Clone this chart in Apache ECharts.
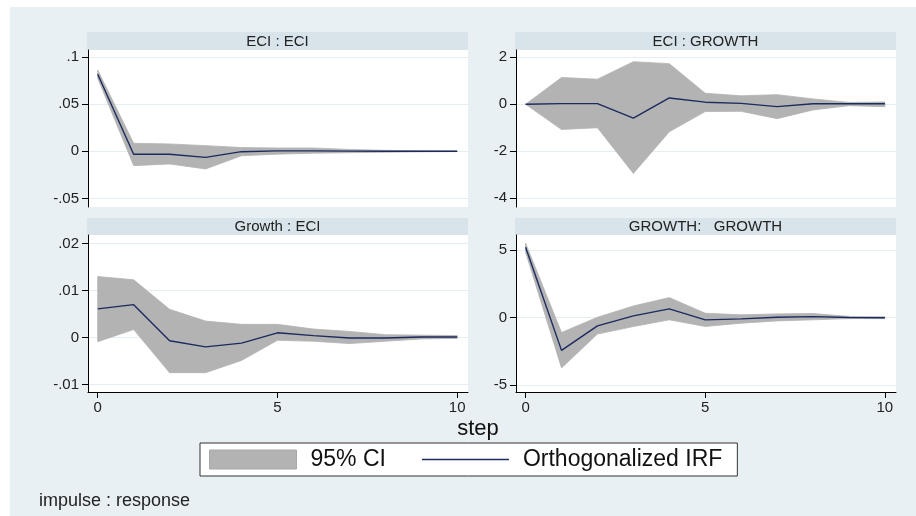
<!DOCTYPE html>
<html>
<head>
<meta charset="utf-8">
<script src="https://cdn.jsdelivr.net/npm/echarts@6/dist/echarts.min.js"></script>
<style>
html,body{margin:0;padding:0;background:#fff;}
#c{width:916px;height:516px;}
</style>
</head>
<body>
<div id="c"></div>
<script>
const steps = [0,1,2,3,4,5,6,7,8,9,10];

// ECI : ECI
const eciEciIrf   = [0.0816,-0.0032,-0.0032,-0.0064,-0.0004,0.0004,0.0005,0.0002,0.0001,0.0000,0.0000];
const eciEciUpper = [0.0860,0.0085,0.0078,0.0060,0.0040,0.0035,0.0035,0.0020,0.0010,0.0005,0.0003];
const eciEciLower = [0.0773,-0.0152,-0.0134,-0.0187,-0.0047,-0.0030,-0.0020,-0.0015,-0.0010,-0.0006,-0.0003];

// ECI : GROWTH
const eciGrIrf   = [0,0.03,0.03,-0.59,0.27,0.09,0.04,-0.10,0.02,0.02,0.02];
const eciGrUpper = [0,1.14,1.07,1.81,1.73,0.47,0.36,0.41,0.23,0.08,0.10];
const eciGrLower = [0,-1.07,-1.00,-2.94,-1.17,-0.31,-0.30,-0.61,-0.24,-0.06,-0.10];

// Growth : ECI
const grEciIrf   = [0.0061,0.0070,-0.0007,-0.0020,-0.0012,0.0010,0.0004,-0.0001,-0.0001,0.0001,0.0001];
const grEciUpper = [0.0130,0.0123,0.0060,0.0035,0.0028,0.0028,0.0018,0.0013,0.0006,0.0005,0.0004];
const grEciLower = [-0.0009,0.0017,-0.0075,-0.0075,-0.0049,-0.0006,-0.0008,-0.0013,-0.0008,-0.0003,-0.0002];

// GROWTH : GROWTH
const grGrIrf   = [5.22,-2.44,-0.62,0.12,0.64,-0.17,-0.10,0.02,0.07,0.00,-0.02];
const grGrUpper = [5.52,-1.11,0.02,0.86,1.48,0.32,0.20,0.27,0.30,0.08,0.05];
const grGrLower = [4.85,-3.74,-1.23,-0.67,-0.17,-0.66,-0.42,-0.25,-0.17,-0.08,-0.08];

const panelTitles = ['ECI : ECI','ECI : GROWTH','Growth : ECI','GROWTH:   GROWTH'];
const yTicks = [
  [-0.05,0,0.05,0.1],
  [-4,-2,0,2],
  [-0.01,0,0.01,0.02],
  [-5,0,5]
];
const xTicks = [0,5,10];

const panels = [
  {irf:eciEciIrf, up:eciEciUpper, lo:eciEciLower},
  {irf:eciGrIrf,  up:eciGrUpper,  lo:eciGrLower},
  {irf:grEciIrf,  up:grEciUpper,  lo:grEciLower},
  {irf:grGrIrf,   up:grGrUpper,   lo:grGrLower}
];

// layout
const FONT = 'Liberation Sans, Arial, Helvetica, sans-serif';
const BG = '#e8f0f3';
const HEAD = '#d8e4ea';
const BAND = '#b3b3b3';
const LINE = '#1c2a5e';
const grids = [
  {left:88,  top:50,  width:380, height:157},
  {left:516, top:50,  width:380, height:157},
  {left:88,  top:235, width:380, height:157},
  {left:516, top:235, width:380, height:157}
];
const yRanges = [
  [-0.059, 0.1073],
  [-4.37, 2.31],
  [-0.01162, 0.02185],
  [-5.53, 6.13]
];
const xRanges = [[-0.27,10.30],[-0.267,10.31],[-0.27,10.30],[-0.267,10.31]];

function fmt(v){
  let s = String(+v.toFixed(4));
  return s.replace(/^(-?)0\./,'$1.');
}

const xAxes = grids.map((g,i)=>({
  gridIndex:i, type:'value', min:xRanges[i][0], max:xRanges[i][1],
  show: i>=2,
  axisLine:{show:true, onZero:false, lineStyle:{color:'#000', width:1}},
  axisTick:{show:true, length:6, customValues:xTicks, lineStyle:{color:'#000'}},
  axisLabel:{show:true, customValues:xTicks, margin:8, color:'#222', fontFamily:FONT, fontSize:15},
  splitLine:{show:false}
}));
const yAxes = grids.map((g,i)=>({
  gridIndex:i, type:'value', min:yRanges[i][0], max:yRanges[i][1],
  axisLine:{show:true, onZero:false, lineStyle:{color:'#000', width:1}},
  axisTick:{show:true, length:6, customValues:yTicks[i], lineStyle:{color:'#000'}},
  axisLabel:{show:true, customValues:yTicks[i], margin:9, color:'#222', fontFamily:FONT, fontSize:15, formatter:fmt},
  splitLine:{show:true, lineStyle:{color:'#e4edf1', width:1}}
}));

const series = [];
panels.forEach((p,i)=>{
  series.push({
    name:'95% CI', type:'custom', xAxisIndex:i, yAxisIndex:i,
    color:BAND, silent:true, z:1,
    data:steps.map((s,k)=>[s,p.lo[k],p.up[k]]),
    encode:{x:0, y:[1,2]},
    renderItem:function(params, api){
      if (params.dataIndex !== 0) return null;
      const pts = [];
      for (let k=0;k<steps.length;k++) pts.push(api.coord([steps[k], p.up[k]]));
      for (let k=steps.length-1;k>=0;k--) pts.push(api.coord([steps[k], p.lo[k]]));
      return {type:'polygon', shape:{points:pts}, style:{fill:BAND, stroke:BAND, lineWidth:0.8}};
    }
  });
  series.push({
    name:'Orthogonalized IRF', type:'line', xAxisIndex:i, yAxisIndex:i,
    symbol:'none', color:LINE, lineStyle:{color:LINE, width:1.4},
    data:steps.map((s,k)=>[s,p.irf[k]]), z:3
  });
});

const graphics = [
  {type:'rect', shape:{x:10,y:7,width:906,height:509}, style:{fill:BG}, z:-10, silent:true}
];
const heads = [
  {x:87, y:32, w:381, h:18},
  {x:515, y:32, w:381, h:18},
  {x:87, y:218, w:381, h:17},
  {x:515, y:218, w:381, h:17}
];
heads.forEach((h,i)=>{
  graphics.push({type:'rect', shape:{x:h.x,y:h.y,width:h.w,height:h.h}, style:{fill:HEAD}, z:-5, silent:true});
  graphics.push({type:'text', x:h.x+h.w/2, y:h.y+h.h/2+0.5, style:{text:panelTitles[i], fill:'#222', font:'15px '+FONT, align:'center', verticalAlign:'middle'}, z:5});
});
graphics.push({type:'text', x:478, y:429, style:{text:'step', fill:'#111', font:'22px '+FONT, align:'center', verticalAlign:'middle'}, z:5});
graphics.push({type:'text', x:39, y:501, style:{text:'impulse : response', fill:'#222', font:'18px '+FONT, align:'left', verticalAlign:'middle'}, z:5});

const chart = echarts.init(document.getElementById('c'), null, {renderer:'canvas'});
chart.setOption({
  backgroundColor:'#fff',
  animation:false,
  grid: grids.map(g=>Object.assign({show:true, backgroundColor:'#fff', borderWidth:0, containLabel:false}, g)),
  xAxis:xAxes,
  yAxis:yAxes,
  legend:{
    left:200, top:443, orient:'horizontal',
    data:[
      {name:'95% CI', icon:'rect', itemStyle:{color:BAND, borderColor:'#a8a8a8', borderWidth:1}},
      {name:'Orthogonalized IRF', icon:'path://M0,0L87,0L87,1.6L0,1.6Z', itemStyle:{color:LINE}}
    ],
    itemWidth:87, itemHeight:19, itemGap:36,
    padding:[5,15,5,9],
    backgroundColor:'#fff', borderColor:'#333', borderWidth:1, borderRadius:0,
    textStyle:{fontFamily:FONT, fontSize:23, color:'#111', padding:[0,0,0,9]},
    selectedMode:false
  },
  graphic:graphics,
  series:series
});
</script>
</body>
</html>
